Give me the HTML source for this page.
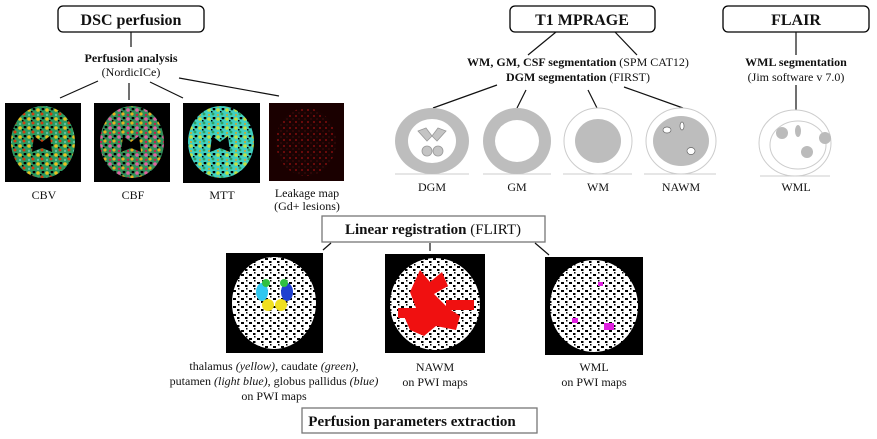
<!DOCTYPE html>
<html><head><meta charset="utf-8"><style>
body{margin:0;background:#fff;width:877px;height:439px;overflow:hidden;font-family:"Liberation Serif",serif}
svg{position:absolute;left:0;top:0}
text{font-family:"Liberation Serif",serif;fill:#111}
</style></head><body>
<svg width="877" height="439" viewBox="0 0 877 439">
<defs>
<pattern id="pc1" width="9" height="9" patternUnits="userSpaceOnUse">
<rect width="9" height="9" fill="#2a9a60"/><circle cx="2" cy="2" r="1.8" fill="#e8c020"/><circle cx="6" cy="6" r="1.5" fill="#d04010"/><circle cx="7" cy="1" r="1.4" fill="#000"/><circle cx="2" cy="7" r="1.2" fill="#60c0a0"/><rect x="4" y="3" width="1.5" height="1.5" fill="#000"/></pattern>
<pattern id="pc2" width="9" height="9" patternUnits="userSpaceOnUse">
<rect width="9" height="9" fill="#30905a"/><circle cx="2" cy="2" r="1.8" fill="#e060a0"/><circle cx="6" cy="6" r="1.6" fill="#e8b020"/><circle cx="7" cy="1" r="1.4" fill="#000"/><circle cx="2" cy="7" r="1.2" fill="#c02050"/><rect x="4" y="3" width="1.5" height="1.5" fill="#000"/></pattern>
<pattern id="pc3" width="9" height="9" patternUnits="userSpaceOnUse">
<rect width="9" height="9" fill="#40d0c0"/><circle cx="2" cy="2" r="1.8" fill="#c0e040"/><circle cx="6" cy="6" r="1.4" fill="#30a060"/><circle cx="7" cy="1" r="1.4" fill="#000"/><circle cx="2" cy="7" r="1" fill="#e0a020"/><rect x="4" y="3" width="1.5" height="1.5" fill="#000"/></pattern>
<pattern id="pc4" width="6" height="6" patternUnits="userSpaceOnUse">
<rect width="6" height="6" fill="#1a0202"/><circle cx="2" cy="2" r="0.9" fill="#a01010"/><circle cx="5" cy="5" r="0.6" fill="#601010"/></pattern>
<pattern id="pw" width="8" height="8" patternUnits="userSpaceOnUse">
<rect width="8" height="8" fill="#fff"/><rect x="1" y="2" width="3" height="2" fill="#000"/><rect x="5" y="5" width="2.5" height="2" fill="#000"/><rect x="6" y="0" width="1.5" height="1.5" fill="#000"/></pattern>
</defs>
<g stroke="#000" stroke-width="1.3" fill="none">
<rect x="58" y="6" width="146" height="26" rx="5"/>
<rect x="510" y="6" width="145" height="26" rx="5"/>
<rect x="723" y="6" width="146" height="26" rx="5"/>
</g>
<g stroke="#777" stroke-width="1.3" fill="none">
<rect x="322" y="216" width="223" height="26"/>
<rect x="302" y="408" width="235" height="25"/>
</g>
<g stroke="#111" stroke-width="1.2">
<line x1="131" y1="32" x2="131" y2="47"/>
<line x1="98" y1="81" x2="60" y2="98"/>
<line x1="129" y1="83" x2="129" y2="100"/>
<line x1="150" y1="82" x2="183" y2="98"/>
<line x1="179" y1="78" x2="279" y2="96"/>
<line x1="556" y1="32" x2="528" y2="55"/>
<line x1="615" y1="32" x2="637" y2="55"/>
<line x1="497" y1="85" x2="433" y2="108"/>
<line x1="526" y1="90" x2="517" y2="108"/>
<line x1="588" y1="90" x2="597" y2="108"/>
<line x1="624" y1="87" x2="683" y2="108"/>
<line x1="796" y1="32" x2="796" y2="55"/>
<line x1="796" y1="85" x2="796" y2="110"/>
<line x1="331" y1="243" x2="323" y2="250"/>
<line x1="430" y1="243" x2="430" y2="251"/>
<line x1="535" y1="243" x2="549" y2="255"/>
</g>
<text x="131" y="25" font-size="16" font-weight="bold" text-anchor="middle">DSC perfusion</text>
<text x="582" y="25" font-size="16" font-weight="bold" text-anchor="middle">T1 MPRAGE</text>
<text x="796" y="25" font-size="16" font-weight="bold" text-anchor="middle">FLAIR</text>
<text x="131" y="62" font-size="12" font-weight="bold" text-anchor="middle">Perfusion analysis</text>
<text x="131" y="76" font-size="12" text-anchor="middle">(NordicICe)</text>
<text x="578" y="66" font-size="12" text-anchor="middle"><tspan font-weight="bold">WM, GM, CSF segmentation</tspan> (SPM CAT12)</text>
<text x="578" y="81" font-size="12" text-anchor="middle"><tspan font-weight="bold">DGM segmentation</tspan> (FIRST)</text>
<text x="796" y="66" font-size="12" font-weight="bold" text-anchor="middle">WML segmentation</text>
<text x="796" y="81" font-size="12" text-anchor="middle">(Jim software v 7.0)</text>
<rect x="5" y="103" width="76" height="79" fill="#000"/><ellipse cx="43" cy="142" rx="32" ry="36" fill="url(#pc1)"/>
<rect x="94" y="103" width="76" height="79" fill="#000"/><ellipse cx="132" cy="142" rx="32" ry="36" fill="url(#pc2)"/>
<rect x="183" y="103" width="77" height="80" fill="#000"/><ellipse cx="221" cy="142" rx="33" ry="36" fill="url(#pc3)"/>
<rect x="269" y="103" width="75" height="78" fill="#1a0000"/><ellipse cx="306" cy="142" rx="30" ry="34" fill="url(#pc4)"/>
<g fill="#000"><path d="M34 136 l8 6 l8 -6 l2 16 l-10 -4 l-10 4z"/><path d="M123 136 l8 6 l8 -6 l2 16 l-10 -4 l-10 4z"/><path d="M212 136 l8 6 l8 -6 l2 16 l-10 -4 l-10 4z"/></g>
<g font-size="12" text-anchor="middle">
<text x="44" y="199">CBV</text><text x="133" y="199">CBF</text><text x="222" y="199">MTT</text>
<text x="307" y="197">Leakage map</text><text x="307" y="210">(Gd+ lesions)</text>
</g>
<line x1="395" y1="174" x2="469" y2="174" stroke="#ccc"/>
<line x1="483" y1="174" x2="551" y2="174" stroke="#ccc"/>
<line x1="563" y1="174" x2="632" y2="174" stroke="#ccc"/>
<line x1="644" y1="174" x2="716" y2="174" stroke="#ccc"/>
<line x1="760" y1="176" x2="830" y2="176" stroke="#ccc"/>
<ellipse cx="432" cy="141" rx="37" ry="33" fill="#bdbdbd"/>
<ellipse cx="432" cy="141" rx="24" ry="22" fill="#fff"/>
<g fill="#c4c4c4" stroke="#999" stroke-width="0.8"><path d="M418 131 l8 -3 l6 8 l-5 5z"/><path d="M446 131 l-8 -3 l-6 8 l5 5z"/><ellipse cx="427" cy="151" rx="5" ry="5"/><ellipse cx="438" cy="151" rx="5" ry="5"/></g>
<ellipse cx="517" cy="141" rx="34" ry="33" fill="#bdbdbd"/>
<ellipse cx="517" cy="141" rx="22" ry="21" fill="#fff"/>
<ellipse cx="598" cy="141" rx="34" ry="33" fill="#fff" stroke="#ccc"/>
<ellipse cx="598" cy="141" rx="23" ry="22" fill="#bdbdbd"/>
<ellipse cx="681" cy="141" rx="35" ry="33" fill="#fff" stroke="#ccc"/>
<ellipse cx="681" cy="141" rx="28" ry="25" fill="#bdbdbd"/>
<g fill="#fff" stroke="#666" stroke-width="0.7"><ellipse cx="667" cy="130" rx="4" ry="3"/><ellipse cx="682" cy="126" rx="2" ry="4"/><ellipse cx="691" cy="151" rx="4" ry="3.5"/></g>
<ellipse cx="795" cy="143" rx="36" ry="33" fill="#fff" stroke="#ccc"/>
<ellipse cx="798" cy="145" rx="28" ry="24" fill="none" stroke="#ccc"/>
<g fill="#bbb"><circle cx="782" cy="133" r="6"/><ellipse cx="798" cy="131" rx="3" ry="6"/><circle cx="825" cy="138" r="6"/><circle cx="807" cy="152" r="6"/></g>
<g font-size="12" text-anchor="middle">
<text x="432" y="191">DGM</text><text x="517" y="191">GM</text><text x="598" y="191">WM</text><text x="681" y="191">NAWM</text><text x="796" y="191">WML</text>
</g>
<text x="433" y="234" font-size="15" text-anchor="middle"><tspan font-weight="bold">Linear registration</tspan> (FLIRT)</text>
<rect x="226" y="253" width="97" height="100" fill="#000"/>
<ellipse cx="274" cy="303" rx="42" ry="46" fill="url(#pw)"/>
<ellipse cx="262" cy="292" rx="6" ry="9" fill="#30c8f0"/><ellipse cx="287" cy="292" rx="6" ry="9" fill="#2040d0"/>
<ellipse cx="266" cy="283" rx="4" ry="4" fill="#30c040"/><ellipse cx="284" cy="283" rx="4" ry="4" fill="#30c040"/>
<ellipse cx="268" cy="305" rx="6" ry="6" fill="#f0e020"/><ellipse cx="281" cy="305" rx="6" ry="6" fill="#f0e020"/>
<rect x="385" y="254" width="100" height="99" fill="#000"/>
<ellipse cx="435" cy="304" rx="45" ry="46" fill="url(#pw)"/>
<g fill="#f01010"><path d="M420 270 l10 12 l12 -10 l6 14 l-14 8 l14 14 l12 8 l-4 14 l-20 -4 l-12 10 l-14 -6 l-6 -14 l12 -8 l-6 -16z"/><rect x="398" y="308" width="26" height="10"/><rect x="446" y="300" width="28" height="10"/></g>
<rect x="545" y="257" width="98" height="98" fill="#000"/>
<ellipse cx="594" cy="306" rx="44" ry="46" fill="url(#pw)"/>
<g fill="#e020e0"><rect x="572" y="318" width="6" height="5"/><rect x="604" y="323" width="10" height="7"/><rect x="598" y="282" width="5" height="4"/></g>
<g font-size="12" text-anchor="middle">
<text x="274" y="370">thalamus <tspan font-style="italic">(yellow)</tspan>, caudate <tspan font-style="italic">(green)</tspan>,</text>
<text x="274" y="385">putamen <tspan font-style="italic">(light blue)</tspan>, globus pallidus <tspan font-style="italic">(blue)</tspan></text>
<text x="274" y="400">on PWI maps</text>
<text x="435" y="371">NAWM</text><text x="435" y="386">on PWI maps</text>
<text x="594" y="371">WML</text><text x="594" y="386">on PWI maps</text>
</g>
<text x="412" y="426" font-size="15" font-weight="bold" text-anchor="middle">Perfusion parameters extraction</text>
</svg>
</body></html>
